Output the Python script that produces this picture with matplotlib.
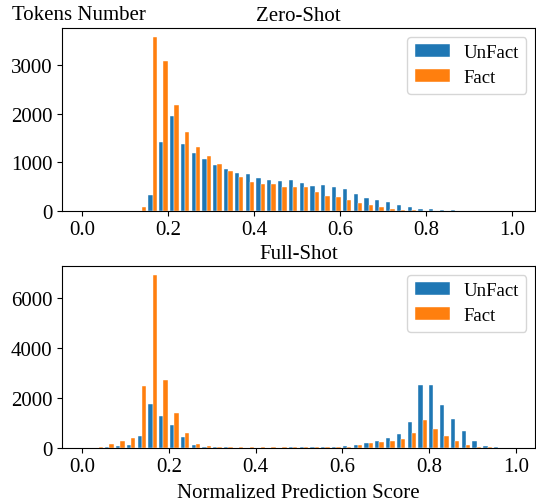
import numpy as np
import matplotlib.pyplot as plt

plt.rcParams['font.family'] = ['Liberation Serif', 'DejaVu Serif']
plt.rcParams['font.size'] = 15

# token counts per score bin (40 bins)
zero_unfact = [0, 0, 0, 0, 0, 0, 320, 1420, 1950, 1375, 1190, 1065, 950, 860, 770, 755,
               665, 630, 605, 638, 563, 508, 522, 480, 446, 350, 254, 228, 178, 114,
               69, 38, 34, 12, 8, 0, 0, 0, 0, 0]
zero_fact = [0, 0, 0, 0, 0, 70, 3575, 3075, 2176, 1620, 1311, 1132, 954, 817, 700, 590,
             556, 556, 487, 480, 480, 384, 295, 281, 220, 158, 117, 78, 34, 14,
             7, 3, 2, 0, 0, 0, 0, 0, 0, 0]

full_unfact = [0, 0, 15, 67, 100, 467, 1747, 1260, 900, 427, 112, 15, 8, 13, 5, 5,
               5, 5, 5, 8, 8, 12, 12, 13, 53, 107, 173, 253, 373, 540,
               1013, 2493, 2493, 1707, 1160, 653, 253, 67, 27, 0]
full_fact = [0, 20, 133, 253, 387, 2453, 6910, 2707, 1393, 595, 135, 67, 15, 27, 13, 13,
             13, 13, 13, 13, 13, 13, 13, 40, 35, 120, 180, 213, 253, 347,
             600, 1120, 747, 467, 267, 120, 40, 13, 5, 0]

zero_edges = np.linspace(0.0, 1.005, 41)
full_edges = np.linspace(0.0, 0.997, 41)
labels = ['UnFact', 'Fact']
colors = ['#1f77b4', '#ff7f0e']

fig = plt.figure(figsize=(5.36, 5.02), dpi=100)
ax1 = fig.add_axes([0.1157, 0.5783, 0.8823, 0.3633])
ax2 = fig.add_axes([0.1157, 0.1062, 0.8823, 0.3613])


def draw(ax, edges, unfact, fact, title):
    mids = (edges[:-1] + edges[1:]) / 2
    ax.hist([mids, mids], bins=edges, weights=[unfact, fact], label=labels,
            color=colors, edgecolor='white', linewidth=0.3)
    ax.set_title(title, fontsize=15)
    ax.set_xticks([0.0, 0.2, 0.4, 0.6, 0.8, 1.0])
    ax.legend(loc='upper right', fontsize=13.5, handlelength=1.85,
              handletextpad=0.75, labelspacing=0.4, borderaxespad=0.45)


draw(ax1, zero_edges, zero_unfact, zero_fact, 'Zero-Shot')
draw(ax2, full_edges, full_unfact, full_fact, 'Full-Shot')
ax1.set_yticks([0, 1000, 2000, 3000])
ax2.set_yticks([0, 2000, 4000, 6000])
ax2.set_xlabel('Normalized Prediction Score', labelpad=5)
fig.text(0.023, 1 - 20.5 / 502, 'Tokens Number', va='baseline', ha='left')

fig.savefig('out.png', dpi=100)
